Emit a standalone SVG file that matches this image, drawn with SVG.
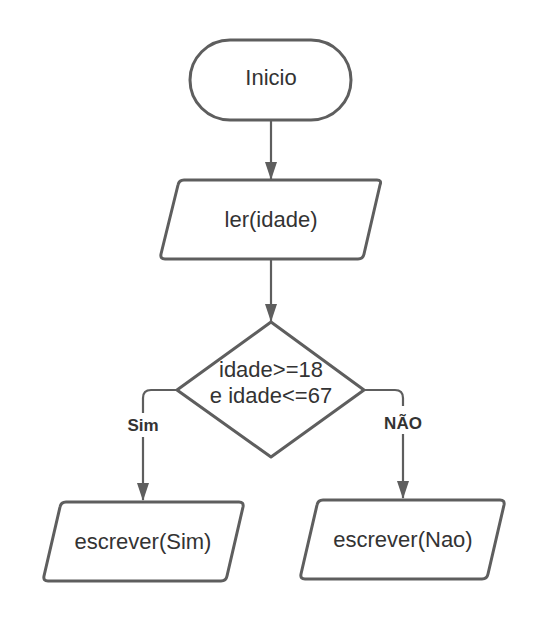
<svg xmlns="http://www.w3.org/2000/svg" width="546" height="622" viewBox="0 0 546 622">
<defs>
<marker id="ah" viewBox="0 0 18 12" refX="17" refY="6" markerWidth="18" markerHeight="12" markerUnits="userSpaceOnUse" orient="auto">
<path d="M0,0 L18,6 L0,12 Z" fill="#5e5e5e"/>
</marker>
<style>
.shape{fill:#ffffff;stroke:#5e5e5e;stroke-width:3;stroke-linejoin:round}
.conn{fill:none;stroke:#5e5e5e;stroke-width:2.2;marker-end:url(#ah)}
.t{font-family:"Liberation Sans",Arial,sans-serif;font-size:22px;fill:#333333;text-anchor:middle}
.lbl{font-family:"Liberation Sans",Arial,sans-serif;font-size:17px;font-weight:bold;fill:#333333;text-anchor:middle}
</style>
</defs>
<rect width="546" height="622" fill="#ffffff"/>
<g id="connectors">
<path class="conn" d="M271,121 L271,179"/>
<path class="conn" d="M271,260 L271,321"/>
<path class="conn" d="M177,390 L151,390 Q143,390 143,398 L143,500"/>
<path class="conn" d="M364,390 L395,390 Q403,390 403,398 L403,498"/>
<rect x="124" y="413" width="38" height="24" fill="#ffffff"/>
<text class="lbl" x="143" y="431">Sim</text>
<rect x="382" y="406" width="42" height="28" fill="#ffffff"/>
<text class="lbl" x="403" y="429">NÃO</text>
</g>
<g id="inicio">
<rect class="shape" x="190" y="40" width="161" height="80" rx="40" ry="40"/>
<text class="t" x="271" y="85">Inicio</text>
</g>
<g id="ler">
<path class="shape" d="M184,180 L377,180 Q382,180 380,185 L364,254 Q363,259 358,259 L165,259 Q160,259 161,254 L178,185 Q179,180 184,180 Z"/>
<text class="t" x="271" y="227">ler(idade)</text>
</g>
<g id="decisao">
<path class="shape" d="M271,322 L364,390 L271,457 L177,390 Z"/>
<text class="t" x="271" y="377">idade&gt;=18</text>
<text class="t" x="271" y="403">e idade&lt;=67</text>
</g>
<g id="escrever-sim">
<path class="shape" d="M66,502 L239,502 Q244,502 243,507 L227,576 Q226,581 221,581 L48,581 Q43,581 44,576 L60,507 Q61,502 66,502 Z"/>
<text class="t" x="143" y="549">escrever(Sim)</text>
</g>
<g id="escrever-nao">
<path class="shape" d="M323,500 L500,500 Q505,500 504,505 L488,574 Q487,579 482,579 L305,579 Q300,579 301,574 L317,505 Q318,500 323,500 Z"/>
<text class="t" x="403" y="547">escrever(Nao)</text>
</g>
</svg>
